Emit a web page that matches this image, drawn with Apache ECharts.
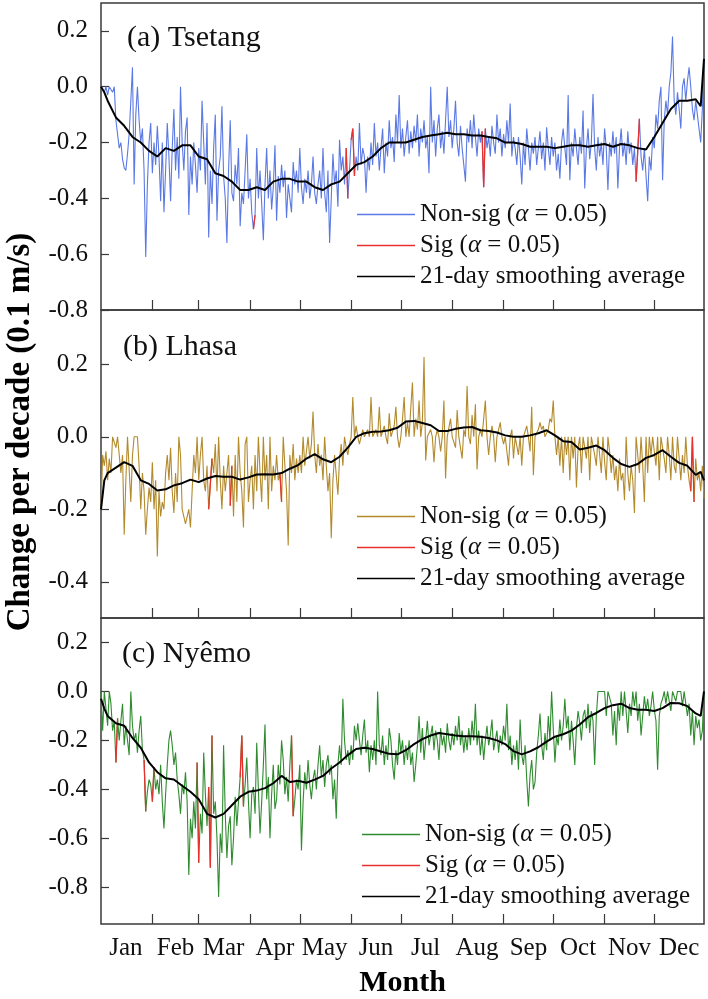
<!DOCTYPE html>
<html><head><meta charset="utf-8">
<script src="https://cdn.jsdelivr.net/npm/echarts@6/dist/echarts.min.js"></script>
<style>html,body{margin:0;padding:0;background:#fff}#c{width:708px;height:999px}</style>
</head><body><div id="c"></div>
<script>
const monthNames = ['Jan','Feb','Mar','Apr','May','Jun','Jul','Aug','Sep','Oct','Nov','Dec'];
const monthTickDays = [32,60,91,121,152,182,213,244,274,305,335];
const monthLabelDays = [16,46,75,106,136,167,197,228,259,289,320,350];
const yTicksA = [-0.8,-0.6,-0.4,-0.2,0,0.2];
const yTicksB = [-0.4,-0.2,0,0.2];
const yTicksC = [-0.8,-0.6,-0.4,-0.2,0,0.2];
const panelTitles = ['(a) Tsetang','(b) Lhasa','(c) Nyêmo'];

// daily trend values, day 1..365
const tsetangDaily = [
0.0,0.0,-0.02,0.0,-0.03,0.0,0.0,-0.02,0.0,-0.12,
-0.17,-0.22,-0.2,-0.26,-0.29,-0.3,-0.24,-0.17,-0.05,0.07,
-0.35,-0.1,0.0,-0.12,-0.2,-0.15,-0.3,-0.61,-0.35,-0.2,
-0.13,-0.31,-0.2,-0.28,-0.14,-0.25,-0.41,-0.2,-0.45,-0.3,
-0.13,-0.25,-0.41,-0.22,-0.08,-0.3,-0.18,-0.33,0.0,-0.2,
-0.3,-0.16,-0.11,-0.46,-0.25,-0.35,-0.2,-0.28,-0.38,-0.22,
-0.3,-0.05,-0.2,-0.35,-0.13,-0.54,-0.3,-0.42,-0.22,-0.1,
-0.48,-0.3,-0.25,-0.07,-0.32,-0.4,-0.56,-0.3,-0.12,-0.38,
-0.41,-0.28,-0.35,-0.22,-0.5,-0.38,-0.42,-0.3,-0.17,-0.4,
-0.33,-0.45,-0.51,-0.46,-0.22,-0.4,-0.3,-0.42,-0.55,-0.35,
-0.22,-0.4,-0.3,-0.44,-0.36,-0.21,-0.48,-0.32,-0.38,-0.28,
-0.36,-0.3,-0.47,-0.35,-0.4,-0.45,-0.27,-0.35,-0.3,-0.38,
-0.22,-0.36,-0.42,-0.33,-0.38,-0.3,-0.4,-0.35,-0.25,-0.38,
-0.42,-0.35,-0.3,-0.4,-0.22,-0.38,-0.45,-0.3,-0.56,-0.4,
-0.24,-0.35,-0.3,-0.43,-0.19,-0.3,-0.25,-0.35,-0.22,-0.4,
-0.3,-0.19,-0.15,-0.32,-0.25,-0.3,-0.13,-0.28,-0.22,-0.25,
-0.38,-0.25,-0.3,-0.2,-0.28,-0.13,-0.25,-0.2,-0.3,-0.22,
-0.15,-0.31,-0.2,-0.25,-0.12,-0.22,-0.18,-0.27,-0.1,-0.2,
-0.03,-0.22,-0.15,-0.25,-0.18,-0.12,-0.24,-0.16,-0.22,-0.14,
-0.2,-0.1,-0.25,-0.15,-0.2,-0.12,-0.22,-0.18,-0.31,0.0,
-0.2,-0.12,-0.25,-0.15,-0.1,-0.22,-0.16,-0.24,-0.12,0.0,
-0.18,-0.12,-0.22,-0.15,-0.05,-0.2,-0.25,-0.14,-0.22,-0.28,
-0.34,-0.15,-0.2,-0.12,-0.22,-0.1,-0.18,-0.25,-0.15,-0.2,
-0.16,-0.36,-0.15,-0.22,-0.18,-0.25,-0.14,-0.2,-0.24,-0.1,
-0.2,-0.15,-0.25,-0.17,-0.22,-0.12,-0.2,-0.06,-0.25,-0.18,
-0.22,-0.28,-0.18,-0.25,-0.35,-0.2,-0.28,-0.15,-0.22,-0.3,
-0.2,-0.24,-0.18,-0.28,-0.22,-0.16,-0.26,-0.2,-0.3,-0.145,
-0.22,-0.28,-0.18,-0.25,-0.2,-0.3,-0.24,-0.33,-0.2,-0.15,
-0.22,-0.28,-0.03,-0.335,-0.2,-0.25,-0.15,-0.22,-0.28,-0.18,
-0.24,-0.085,-0.365,-0.22,-0.15,-0.26,-0.2,-0.026,-0.22,-0.3,
-0.18,-0.25,-0.2,-0.28,-0.15,-0.22,-0.37,-0.2,-0.25,-0.16,
-0.24,-0.18,-0.365,-0.22,-0.15,-0.25,-0.2,-0.28,-0.16,-0.24,
-0.2,-0.28,-0.22,-0.34,-0.23,-0.115,-0.25,-0.3,-0.22,-0.32,
-0.41,-0.25,-0.3,-0.18,-0.22,-0.1,-0.15,-0.05,0.0,-0.335,
-0.12,-0.05,-0.1,0.0,0.05,0.18,-0.05,-0.1,-0.02,-0.08,
-0.15,0.0,0.03,-0.05,0.02,0.07,0.0,-0.08,-0.12,-0.05,
-0.1,-0.15,-0.2,-0.08,0.1
];
const lhasaDaily = [
-0.2,-0.05,-0.08,-0.04,-0.12,-0.06,-0.1,0.0,0.0,-0.03,
0.0,0.0,-0.1,-0.05,-0.27,-0.12,0.0,0.0,-0.18,-0.05,
0.0,0.0,0.0,-0.08,-0.2,-0.1,-0.15,-0.27,-0.2,-0.14,
-0.18,-0.07,-0.2,-0.12,-0.33,-0.15,-0.22,-0.18,-0.2,-0.1,
-0.05,-0.12,-0.03,-0.15,-0.21,-0.1,-0.18,0.0,-0.05,-0.2,
-0.22,-0.24,-0.24,-0.2,-0.25,-0.15,-0.05,-0.1,0.0,-0.12,
-0.05,0.0,-0.12,-0.15,-0.08,-0.2,-0.13,-0.06,-0.1,-0.02,
-0.15,0.0,-0.12,-0.2,-0.08,-0.15,-0.1,-0.05,-0.19,-0.08,
-0.22,-0.05,-0.18,0.0,-0.1,-0.15,-0.25,-0.02,0.0,-0.18,
-0.12,-0.08,-0.2,-0.05,-0.15,0.0,-0.1,-0.18,0.0,-0.12,
-0.05,-0.2,0.0,-0.15,-0.08,-0.12,-0.05,-0.12,-0.1,-0.18,
0.0,-0.08,-0.15,-0.3,-0.05,-0.1,-0.02,-0.12,-0.06,-0.1,
-0.05,-0.1,0.0,-0.08,-0.04,0.0,-0.06,-0.02,0.07,-0.05,
-0.1,-0.02,-0.08,-0.05,-0.12,0.0,-0.08,-0.15,-0.1,-0.28,
-0.12,-0.05,-0.055,-0.16,-0.06,-0.02,-0.08,0.0,-0.03,-0.05,
-0.02,0.0,0.11,0.0,0.03,0.0,-0.02,0.0,0.02,0.0,
0.0,0.02,0.0,0.11,0.0,0.0,0.02,0.0,0.083,0.0,
0.0,0.03,0.0,-0.02,0.065,0.0,0.0,0.03,0.083,0.0,
-0.03,0.0,0.05,0.11,0.0,0.04,0.0,0.08,0.15,0.0,
0.05,0.02,0.1,0.0,0.04,0.22,-0.065,0.0,0.0,0.02,
0.0,-0.07,0.0,0.02,0.0,-0.04,0.0,0.1,-0.115,0.0,
0.0,0.05,0.0,0.0,-0.03,0.074,0.0,0.0,-0.06,0.02,
0.0,0.14,0.0,-0.02,0.06,0.0,0.09,-0.09,0.0,0.02,
0.0,0.05,0.1,0.0,-0.05,0.0,0.03,0.0,-0.07,0.0,
0.0,0.04,0.0,-0.02,0.0,0.0,-0.08,0.0,0.02,-0.06,
0.0,0.0,-0.05,0.0,-0.08,0.0,0.0,0.03,0.0,-0.04,
0.083,-0.106,0.0,0.0,0.02,0.04,0.02,0.03,0.0,0.0,
0.02,0.05,0.04,0.1,0.0,-0.05,0.0,-0.08,0.0,-0.1,
0.0,-0.05,0.0,-0.12,0.0,-0.06,0.0,-0.14,-0.03,0.0,
-0.1,0.0,0.0,-0.06,0.0,-0.12,0.0,0.0,-0.05,-0.08,
0.0,0.0,-0.1,0.0,-0.07,-0.12,0.0,-0.04,-0.1,-0.05,
-0.12,-0.08,-0.15,-0.06,-0.12,-0.1,-0.175,0.0,-0.1,-0.15,
-0.08,-0.12,-0.21,0.0,-0.05,-0.1,0.0,-0.08,-0.18,0.0,
-0.1,0.0,-0.05,0.0,0.0,-0.08,0.0,-0.12,0.0,0.0,
-0.06,-0.1,0.0,-0.05,-0.12,0.0,-0.08,-0.1,0.0,-0.06,
-0.12,-0.05,-0.1,0.0,-0.08,-0.12,-0.15,0.0,-0.18,-0.06,
-0.12,-0.1,-0.15,-0.08,-0.17
];
const nyemoDaily = [
0.0,-0.16,0.0,0.0,-0.14,0.0,-0.05,-0.16,-0.12,-0.29,
-0.11,-0.2,-0.12,-0.05,-0.22,-0.14,-0.2,-0.26,0.0,-0.14,
-0.2,-0.17,-0.25,-0.16,-0.1,-0.24,-0.28,-0.49,-0.41,-0.36,
-0.38,-0.45,-0.31,-0.4,-0.36,-0.42,-0.3,-0.45,-0.56,-0.42,
-0.3,-0.2,-0.16,-0.22,-0.3,-0.25,-0.36,-0.42,-0.5,-0.38,
-0.42,-0.33,-0.45,-0.75,-0.52,-0.6,-0.45,-0.56,-0.29,-0.7,
-0.5,-0.58,-0.25,-0.42,-0.55,-0.39,-0.72,-0.18,-0.5,-0.45,
-0.6,-0.84,-0.58,-0.66,-0.22,-0.5,-0.68,-0.55,-0.51,-0.71,
-0.6,-0.43,-0.55,-0.45,-0.35,-0.18,-0.47,-0.38,-0.27,-0.45,
-0.6,-0.42,-0.39,-0.5,-0.21,-0.4,-0.58,-0.45,-0.3,-0.135,
-0.44,-0.35,-0.6,-0.42,-0.3,-0.48,-0.44,-0.3,-0.38,-0.2,
-0.28,-0.42,-0.35,-0.45,-0.3,-0.18,-0.51,-0.44,-0.36,-0.4,
-0.3,-0.65,-0.45,-0.33,-0.4,-0.28,-0.38,-0.44,-0.36,-0.32,
-0.4,-0.3,-0.22,-0.35,-0.28,-0.39,-0.3,-0.26,-0.34,-0.3,
-0.44,-0.36,-0.52,-0.3,-0.22,-0.3,-0.03,-0.2,-0.28,-0.24,
-0.3,-0.22,-0.28,-0.14,-0.2,-0.13,-0.2,-0.26,-0.18,-0.115,
-0.25,-0.2,-0.33,-0.22,-0.28,-0.2,-0.3,0.0,-0.22,-0.26,
-0.18,-0.3,-0.22,-0.28,-0.15,-0.2,-0.3,-0.36,-0.24,-0.3,
-0.17,-0.25,-0.2,-0.3,-0.22,-0.28,-0.2,-0.3,-0.25,-0.37,
-0.3,-0.22,-0.1,-0.25,-0.15,-0.28,-0.2,-0.12,-0.22,-0.18,
-0.14,-0.24,-0.16,-0.2,-0.28,-0.15,-0.22,-0.18,-0.25,-0.13,
-0.2,-0.24,-0.17,-0.22,-0.14,-0.2,-0.1,-0.22,-0.16,-0.25,
-0.18,-0.24,-0.15,-0.22,-0.12,-0.2,-0.05,-0.22,-0.16,-0.26,
-0.18,-0.28,-0.2,-0.14,-0.22,-0.18,-0.115,-0.24,-0.2,-0.16,
-0.25,-0.18,-0.22,-0.14,-0.2,-0.05,-0.24,-0.18,-0.3,-0.22,
-0.28,-0.2,-0.32,-0.115,-0.26,-0.3,-0.22,-0.36,-0.47,-0.34,
-0.28,-0.4,-0.37,-0.25,-0.18,-0.09,-0.22,-0.28,-0.17,-0.24,
-0.1,-0.2,0.0,-0.15,-0.29,-0.18,-0.22,-0.115,-0.2,-0.14,
-0.03,-0.15,-0.1,-0.24,-0.12,-0.2,-0.3,-0.15,-0.08,-0.13,
-0.2,-0.1,-0.075,-0.15,-0.05,-0.17,-0.08,-0.12,-0.3,-0.1,
0.0,0.0,0.0,0.0,0.0,-0.1,0.0,0.0,-0.05,-0.18,
-0.08,-0.22,-0.05,-0.12,0.0,-0.1,0.0,-0.08,-0.17,-0.05,
-0.1,0.0,-0.06,0.0,-0.12,-0.05,-0.18,-0.1,-0.02,-0.08,
-0.03,-0.1,-0.06,0.0,-0.075,-0.12,-0.32,-0.1,-0.05,-0.03,
0.0,-0.05,0.0,0.0,-0.08,0.0,0.0,-0.04,0.0,0.0,
0.0,-0.06,0.0,0.0,-0.1,-0.05,-0.18,-0.08,-0.22,-0.1,
-0.15,-0.115,-0.2,-0.16,0.0
];

// significant (alpha = 0.05) day ranges [first day, last day]
const tsetangSig = [[93,94],[149,150],[152,154],[231,233],[324,326]];
const lhasaSig = [[66,68],[79,80],[109,110],[357,359]];
const nyemoSig = [[10,11],[27,28],[32,33],[59,60],[66,68],[85,87],[116,117]];

// 21-day smoothing average, read at these days
const smoothDays = [1,3,5,10,15,20,25,30,35,40,45,50,55,60,65,70,75,80,85,90,95,100,
105,110,115,120,125,130,135,140,145,150,155,160,165,170,175,180,185,190,195,200,
205,210,215,220,225,230,235,240,245,250,255,260,265,270,275,280,285,290,295,300,
305,310,315,320,325,330,335,340,345,350,355,360,363,365];
const tsetangSmooth = [0.0,-0.02,-0.05,-0.11,-0.14,-0.18,-0.2,-0.23,-0.25,-0.22,-0.23,-0.21,-0.21,-0.25,-0.26,-0.31,-0.32,-0.34,-0.37,-0.37,-0.36,-0.37,
-0.34,-0.33,-0.33,-0.34,-0.34,-0.36,-0.37,-0.35,-0.34,-0.31,-0.28,-0.27,-0.25,-0.22,-0.2,-0.2,-0.2,-0.19,-0.18,-0.175,
-0.17,-0.165,-0.17,-0.17,-0.175,-0.175,-0.18,-0.185,-0.2,-0.2,-0.205,-0.215,-0.215,-0.215,-0.22,-0.215,-0.21,-0.21,-0.215,-0.21,
-0.205,-0.215,-0.205,-0.21,-0.22,-0.225,-0.18,-0.13,-0.08,-0.05,-0.05,-0.045,-0.07,0.1];
const lhasaSmooth = [-0.2,-0.12,-0.1,-0.085,-0.07,-0.08,-0.12,-0.13,-0.148,-0.145,-0.134,-0.128,-0.118,-0.125,-0.115,-0.108,-0.11,-0.11,-0.118,-0.112,-0.104,-0.103,
-0.104,-0.1,-0.088,-0.078,-0.06,-0.048,-0.062,-0.07,-0.055,-0.03,0.0,0.01,0.014,0.015,0.018,0.025,0.042,0.044,0.038,0.032,
0.016,0.016,0.022,0.026,0.027,0.018,0.016,0.012,0.004,0.0,0.0,0.004,0.01,0.018,0.004,-0.012,-0.014,-0.035,-0.03,-0.024,
-0.037,-0.058,-0.075,-0.083,-0.075,-0.058,-0.05,-0.037,-0.055,-0.072,-0.08,-0.105,-0.097,-0.12];
const nyemoSmooth = [-0.03,-0.07,-0.1,-0.13,-0.14,-0.19,-0.23,-0.29,-0.33,-0.355,-0.36,-0.385,-0.41,-0.44,-0.5,-0.515,-0.5,-0.465,-0.43,-0.41,-0.405,-0.395,
-0.375,-0.345,-0.37,-0.365,-0.373,-0.36,-0.345,-0.315,-0.29,-0.26,-0.235,-0.23,-0.235,-0.245,-0.255,-0.257,-0.24,-0.215,-0.195,-0.18,
-0.17,-0.175,-0.18,-0.183,-0.183,-0.185,-0.19,-0.2,-0.215,-0.244,-0.257,-0.245,-0.228,-0.205,-0.185,-0.175,-0.16,-0.135,-0.105,-0.088,
-0.068,-0.056,-0.05,-0.068,-0.075,-0.075,-0.08,-0.068,-0.047,-0.048,-0.06,-0.09,-0.1,0.0];

const FONT = '"Liberation Serif", "Times New Roman", serif';
const AXIS_COLOR = '#3a3a3a';
const panels = [
  {key:'A', daily:tsetangDaily, sig:tsetangSig, smooth:tsetangSmooth, color:'#5b79e4', min:-0.8, max:0.3, ticks:yTicksA, top:3, height:307, legendTop:199, legendLeft:357, titleTop:21, titleLeft:127},
  {key:'B', daily:lhasaDaily, sig:lhasaSig, smooth:lhasaSmooth, color:'#b38a2c', min:-0.5, max:0.35, ticks:yTicksB, top:310, height:308, legendTop:501, legendLeft:357, titleTop:330, titleLeft:123},
  {key:'C', daily:nyemoDaily, sig:nyemoSig, smooth:nyemoSmooth, color:'#2e8b2e', min:-0.95, max:0.3, ticks:yTicksC, top:618, height:307, legendTop:819, legendLeft:362, titleTop:637, titleLeft:122}
];
const legendText = {
  ns: '{t|Non-sig (}{i|α}{t| = 0.05)}',
  sig: '{t|Sig (}{i|α}{t| = 0.05)}',
  sm: '{t|21-day smoothing average}'
};
const rich = {
  t: {fontSize:25, fontFamily:FONT, color:'#111', lineHeight:31},
  i: {fontSize:25, fontFamily:FONT, color:'#111', fontStyle:'italic', lineHeight:31}
};

const option = {
  animation:false,
  backgroundColor:'#fff',
  grid:[], xAxis:[], yAxis:[], series:[], legend:[], title:[],
  graphic:[{
    type:'text', x:20, y:432, rotation:Math.PI/2,
    style:{text:'Change per decade (0.1 m/s)', fontSize:33, fontWeight:'bold', fontFamily:FONT, fill:'#000', align:'center', verticalAlign:'middle', textAlign:'center', textVerticalAlign:'middle'}
  }]
};

panels.forEach((p, i) => {
  option.grid.push({left:101, width:603, top:p.top, height:p.height, show:true, borderColor:AXIS_COLOR, borderWidth:1.5, containLabel:false});
  option.xAxis.push({
    type:'value', gridIndex:i, min:1, max:365, position:'bottom',
    splitLine:{show:false}, axisLine:{show:false, onZero:false},
    axisTick:{show:true, inside:true, length:10, customValues:monthTickDays, lineStyle:{color:AXIS_COLOR, width:1.2}},
    axisLabel:{show:i===2, customValues:monthLabelDays, formatter:(v)=>monthNames[monthLabelDays.indexOf(v)], fontSize:25, fontFamily:FONT, color:'#111', margin:12},
    name: i===2 ? 'Month' : '', nameLocation:'middle', nameGap:44,
    nameTextStyle:{fontSize:30, fontWeight:'bold', fontFamily:FONT, color:'#000'}
  });
  option.yAxis.push({
    type:'value', gridIndex:i, min:p.min, max:p.max, position:'left',
    splitLine:{show:false}, axisLine:{show:false, onZero:false},
    axisTick:{show:true, inside:true, length:8, customValues:p.ticks, lineStyle:{color:AXIS_COLOR, width:1.2}},
    axisLabel:{customValues:p.ticks, formatter:(v)=>v.toFixed(1), fontSize:25, fontFamily:FONT, color:'#111', margin:13}
  });
  const sigData = [];
  p.sig.forEach(([s, e]) => {
    for (let d = s; d <= e; d++) sigData.push([d, p.daily[d-1]]);
    sigData.push([e + 0.5, null]);
  });
  option.series.push({
    type:'line', name:'ns'+p.key, xAxisIndex:i, yAxisIndex:i, symbol:'none', color:p.color,
    lineStyle:{width:1.1, color:p.color}, z:2,
    data:p.daily.map((v, j) => [j+1, v])
  });
  option.series.push({
    type:'line', name:'sig'+p.key, xAxisIndex:i, yAxisIndex:i, symbol:'none', color:'#e8312c',
    lineStyle:{width:1.3, color:'#e8312c'}, z:3, connectNulls:false,
    data:sigData
  });
  option.series.push({
    type:'line', name:'sm'+p.key, xAxisIndex:i, yAxisIndex:i, symbol:'none', color:'#000',
    lineStyle:{width:2, color:'#000'}, z:4,
    data:smoothDays.map((d, j) => [d, p.smooth[j]])
  });
  option.legend.push({
    orient:'vertical', left:p.legendLeft, top:p.legendTop, padding:0, itemGap:0,
    itemWidth:58, itemHeight:1.6, selectedMode:false, icon:'rect',
    data:[
      {name:'ns'+p.key, icon:'rect'},
      {name:'sig'+p.key, icon:'rect'},
      {name:'sm'+p.key, icon:'rect'}
    ],
    formatter:(name) => legendText[name.slice(0, -1)],
    textStyle:{fontSize:25, fontFamily:FONT, color:'#111', lineHeight:31, rich:rich}
  });
  option.title.push({
    text:panelTitles[i], left:p.titleLeft, top:p.titleTop, padding:0,
    textStyle:{fontSize:30, fontWeight:'normal', fontFamily:FONT, color:'#111', lineHeight:34}
  });
});

const chart = echarts.init(document.getElementById('c'), null, {renderer:'canvas'});
chart.setOption(option);
</script>
</body></html>
